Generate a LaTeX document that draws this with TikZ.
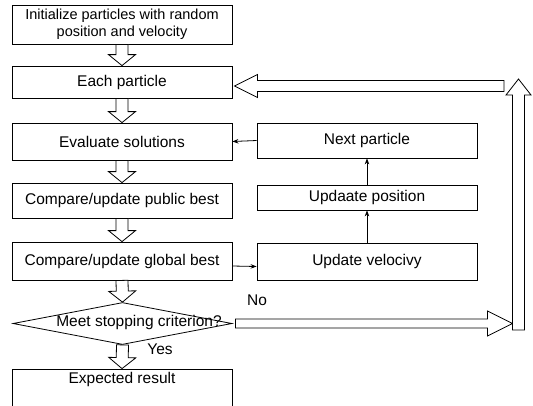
\documentclass[tikz,border=0pt]{standalone}
\usepackage{fontspec}
\setmainfont{Liberation Sans}
\usetikzlibrary{calc,shapes.geometric,arrows.meta}
\newcommand\hollowarrow[5]{% start, end, stem half width, head half width, head length
  \coordinate (hb) at ($(#2)!#5!(#1)$);
  \draw[line width=0.8pt, fill=white] ($(#1)!#3!90:(#2)$) -- ($(hb)!#3!-90:(#1)$) -- ($(hb)!#4!-90:(#1)$) -- (#2) -- ($(hb)!#4!90:(#1)$) -- ($(hb)!#3!90:(#1)$) -- ($(#1)!#3!-90:(#2)$) -- cycle;}
\begin{document}
\begin{tikzpicture}[x=1pt,y=-1pt,
  box/.style={draw, line width=0.8pt, minimum width=220pt, inner sep=0pt, align=center, font=\fontsize{15.5}{17}\selectfont},
  thinarrow/.style={draw, line width=0.8pt, -{Stealth[length=6pt,width=4.5pt]}},
  lbl/.style={font=\fontsize{15.5}{17}\selectfont, inner sep=0pt}]
\useasboundingbox (0,0) rectangle (533,405);
% left column
\node[box, minimum height=39pt, font=\fontsize{14.5}{17}\selectfont] (init) at (122,24.5) {Initialize particles with random\\position and velocity};
\node[box, minimum height=32pt] (each) at (122,82) {Each particle};
\node[box, minimum height=37pt] (eval) at (122,141.5) {Evaluate solutions};
\node[box, minimum height=35pt] (pub) at (122,200.5) {Compare/update public best};
\node[box, minimum height=38pt] (glob) at (122,261) {Compare/update global best};
\node[draw, diamond, line width=0.8pt, minimum width=219pt, minimum height=42pt, inner sep=0pt] (stop) at (122.5,323.5) {};
\node[lbl] (stoptext) at (139,322.5) {Meet stopping criterion?};
\node[box, minimum height=40pt] (res) at (122,389) {};
\node[lbl] (restext) at (122,379) {Expected result};
% right column
\node[box, minimum height=35pt] (next) at (367,140.5) {Next particle};
\node[box, minimum height=25pt] (pos) at (367,197.5) {Updaate position};
\node[box, minimum height=37pt] (vel) at (367,261.5) {Update velocivy};
% thin arrows
\draw[thinarrow] (vel.north) -- (pos.south);
\draw[thinarrow] (pos.north) -- (next.south);
\draw[thinarrow] (next.west) -- (eval.east);
\draw[thinarrow] ([yshift=-5pt]glob.east) -- ([yshift=-5pt]vel.west);
% hollow arrows down the left column
\hollowarrow{init.south}{each.north}{6pt}{13.5pt}{11pt}
\hollowarrow{each.south}{eval.north}{6pt}{13.5pt}{11pt}
\hollowarrow{eval.south}{pub.north}{6pt}{13.5pt}{11pt}
\hollowarrow{pub.south}{glob.north}{6pt}{13.5pt}{11pt}
\hollowarrow{glob.south}{stop.north}{6pt}{13.5pt}{11pt}
\hollowarrow{stop.south}{res.north}{6pt}{13.5pt}{11pt}
% loop back
\coordinate (lb) at (518.5,330);
\coordinate (lt) at (518.5,79);
\coordinate (ls) at (504,86);
\coordinate (le) at (stop.east -| 512.5,0);
\hollowarrow{[xshift=3pt]stop.east}{le}{4.5pt}{12.5pt}{25pt}
\hollowarrow{lb}{lt}{6pt}{12.5pt}{16pt}
\hollowarrow{ls}{[xshift=2pt,yshift=-4pt]each.east}{5.5pt}{11.5pt}{23pt}
% labels
\node[lbl] (no) at (257,300) {No};
\node[lbl] (yes) at (160,349) {Yes};
\end{tikzpicture}
\end{document}
